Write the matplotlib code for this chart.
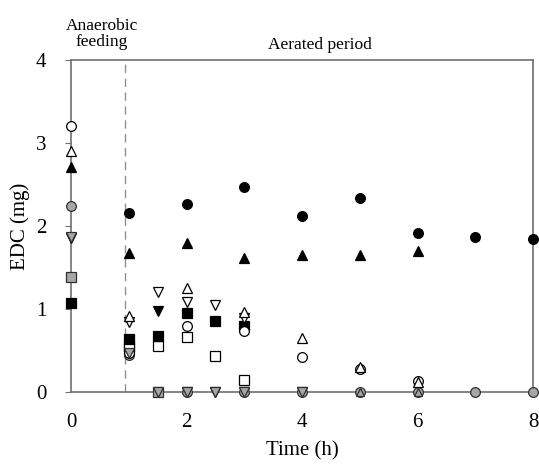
import matplotlib.pyplot as plt

plt.rcParams['font.family'] = ['Liberation Serif', 'DejaVu Serif']

# filled black circle
t_bc = [1, 2, 3, 4, 5, 6, 7, 8]
y_bc = [2.16, 2.26, 2.47, 2.12, 2.34, 1.91, 1.87, 1.84]
# filled black triangle
t_bt = [0, 1, 2, 3, 4, 5, 6]
y_bt = [2.71, 1.67, 1.79, 1.62, 1.65, 1.65, 1.70]
# open circle
t_oc = [0, 1, 2, 3, 4, 5, 6]
y_oc = [3.20, 0.47, 0.80, 0.74, 0.42, 0.28, 0.13]
# open triangle
t_ot = [0, 1, 2, 3, 4, 5, 6]
y_ot = [2.91, 0.91, 1.25, 0.96, 0.65, 0.30, 0.12]
# open down triangle
t_odt = [0, 1, 1.5, 2, 2.5, 3]
y_odt = [1.85, 0.84, 1.20, 1.08, 1.05, 0.89]
# filled black down triangle
t_bdt = [1.5, 2, 2.5, 3, 4]
y_bdt = [0.97, 0, 0, 0, 0]
# filled black square
t_bs = [0, 1, 1.5, 2, 2.5, 3]
y_bs = [1.07, 0.64, 0.68, 0.95, 0.86, 0.80]
# open square
t_os = [1, 1.5, 2, 2.5, 3]
y_os = [0.55, 0.55, 0.66, 0.43, 0.14]
# grey circle
t_gc = [0, 1, 2, 3, 4, 5, 6, 7, 8]
y_gc = [2.24, 0.45, 0, 0, 0, 0, 0, 0, 0]
# grey square
t_gs = [0, 1, 1.5]
y_gs = [1.38, 0.52, 0]
# grey down triangle
t_gdt = [0, 1, 1.5, 2, 2.5, 3, 4]
y_gdt = [1.87, 0.47, 0, 0, 0, 0, 0]
# grey triangle
t_gt = [5, 6]
y_gt = [0, 0]

fig = plt.figure(figsize=(5.39, 4.66), dpi=100)
ax = fig.add_axes([0.132, 0.159, 0.857, 0.712])

grey = '#a6a6a6'
edge = '#303030'
ms = 7

ax.axvline(0.93, color='#909090', linestyle=(0, (6, 4)), linewidth=1.0, zorder=1)

def pts(t, y, marker, face, size=ms, ec='black'):
    ax.plot(t, y, linestyle='none', marker=marker, markersize=size,
            markerfacecolor=face, markeredgecolor=ec, markeredgewidth=0.9,
            clip_on=False, zorder=3)

pts(t_bdt, y_bdt, 'v', 'black', size=6.5)
pts(t_gc, y_gc, 'o', grey, ec=edge)
pts(t_gs, y_gs, 's', grey, size=6.5, ec=edge)
pts(t_gt, y_gt, '^', grey, size=6, ec=edge)
pts(t_os, y_os, 's', 'white', size=6.5)
pts(t_bs, y_bs, 's', 'black', size=6.5)
pts(t_oc, y_oc, 'o', 'white')
pts(t_odt, y_odt, 'v', 'white')
pts(t_gdt, y_gdt, 'v', grey, size=6.5, ec=edge)
pts(t_ot, y_ot, '^', 'white')
pts(t_bt, y_bt, '^', 'black')
pts(t_bc, y_bc, 'o', 'black')

ax.set_xlim(0, 8)
ax.set_ylim(0, 4)
ax.set_xticks([0, 2, 4, 6, 8])
ax.set_yticks([0, 1, 2, 3, 4])
for s in ax.spines.values():
    s.set_color('#707070')
    s.set_linewidth(1.2)
ax.tick_params(axis='x', length=0, pad=15, labelsize=15)
ax.tick_params(axis='y', length=4, color='#707070', direction='out', pad=14, labelsize=15)

ax.set_xlabel('Time (h)', fontsize=15, labelpad=7)
ax.set_ylabel('EDC (mg)', fontsize=15, labelpad=4)

fig.text(102 / 539, 1 - 34 / 466, 'Anaerobic\nfeeding', ha='center', va='center',
         fontsize=12.5, linespacing=1.0)
fig.text(320 / 539, 1 - 45 / 466, 'Aerated period', ha='center', va='center',
         fontsize=12.5)

fig.savefig('out.png', dpi=100)
